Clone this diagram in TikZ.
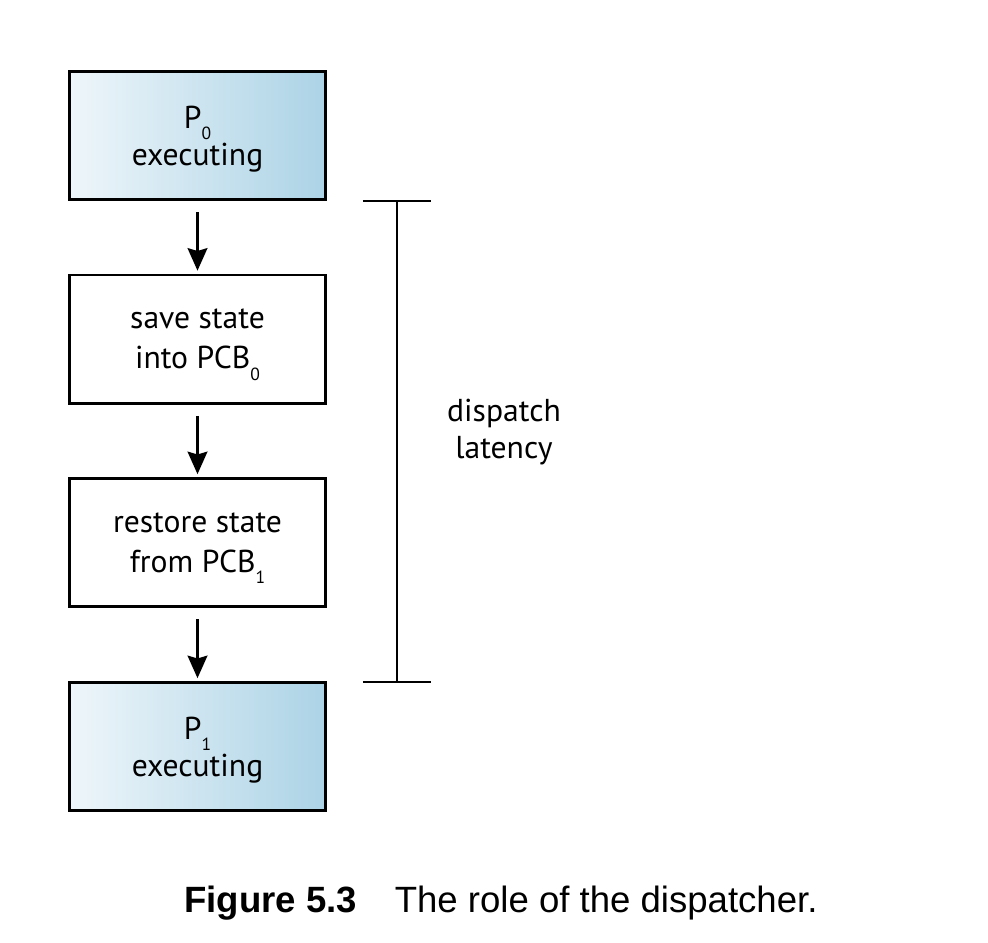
\documentclass[tikz,border=0pt]{standalone}
\usepackage{fontspec}
\setmainfont{PT Sans}
\newfontfamily\capfont{Liberation Sans}
\usetikzlibrary{arrows.meta}
\definecolor{os_light}{RGB}{238, 246, 250}
\definecolor{os_blue}{RGB}{172, 211, 230}
\newcommand{\lowsub}[1]{\raisebox{-8pt}[0pt][0pt]{\fontsize{12.5}{12.5}\selectfont #1}}
\tikzstyle{stepbox}=[rectangle,draw=black,line width=2.1pt,align=center,
  minimum width=6.4cm,minimum height=3.2cm,inner sep=0pt,text depth=0pt,
  font=\fontsize{22.5}{28.5}\selectfont]
\tikzstyle{procbox}=[stepbox,left color=os_light,right color=os_blue,
  font=\fontsize{22.5}{26.5}\selectfont]
\tikzstyle{flow}=[line width=2.1pt,-{Stealth[length=16pt,width=14pt,inset=2pt]},
  shorten <=8pt,shorten >=2pt]

\begin{document}
\begin{tikzpicture}[x=0.025cm,y=-0.025cm]
    \useasboundingbox (0,0) rectangle (988,942);
    \node [style=procbox] (p0) at (197.5, 135.5) {P\lowsub{0}\\executing};
    \node [style=stepbox] (save) at (197.5, 339) {save state\\into PCB\lowsub{0}};
    \node [style=stepbox] (restore) at (197.5, 542.5) {restore state\\from PCB\lowsub{1}};
    \node [style=procbox] (p1) at (197.5, 746.5) {P\lowsub{1}\\executing};
    \draw [style=flow] (p0) to (save);
    \draw [style=flow] (save) to (restore);
    \draw [style=flow] (restore) to (p1);
    % latency bracket
    \coordinate (top) at (397, 201);
    \coordinate (bot) at (397, 682);
    \draw [line width=1.7pt] (top) to (bot);
    \draw [line width=1.7pt] ([xshift=-0.85cm]top) to ([xshift=0.85cm]top);
    \draw [line width=1.7pt] ([xshift=-0.85cm]bot) to ([xshift=0.85cm]bot);
    \node [align=center,font=\fontsize{22.5}{26.5}\selectfont] (lat) at (504, 432) {dispatch\\latency};
    \node [font=\capfont\fontsize{26}{30}\selectfont] (cap) at (501, 903)
      {\textbf{Figure 5.3}\hspace{0.75em} The role of the dispatcher.};
\end{tikzpicture}
\end{document}
